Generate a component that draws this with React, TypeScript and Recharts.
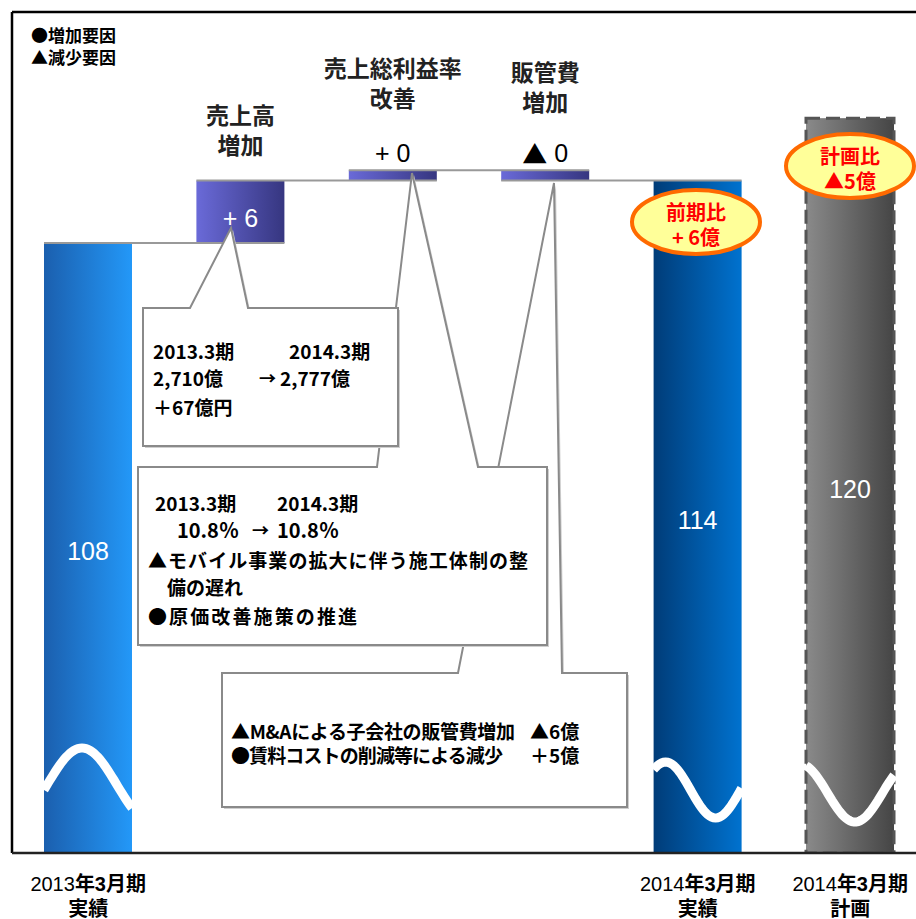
import React from 'react';
import { BarChart, Bar, XAxis, YAxis, Cell } from 'recharts';

// 売上総利益の増減要因 (億円) — ウォーターフォール
const categories = ['2013年3月期実績', '売上高増加', '売上総利益率改善', '販管費増加', '2014年3月期実績', '2014年3月期計画'];
const kinds = ['total', 'up', 'up', 'down', 'total', 'plan'];
const startValues: (number | null)[] = [null, 108, 114, 115, null, null];
const endValues = [108, 114, 115, 114, 114, 120];
const valueLabels = ['108', '+ 6', '+ 0', '▲ 0', '114', '120'];
const stepTitles = [[], ['売上高', '増加'], ['売上総利益率', '改善'], ['販管費', '増加'], [], []];
const periodYears = ['2013', '', '', '', '2014', '2014'];
const periodMonths = ['年3月期', '', '', '', '年3月期', '年3月期'];
const periodKinds = ['実績', '', '', '', '実績', '計画'];

const data = categories.map((name, i) => {
  const s = startValues[i];
  const e = endValues[i];
  return {
    name,
    value: s == null ? e : [Math.min(s, e), Math.max(s, e)],
  };
});

// layout
const CHART_W = 940;
const CHART_H = 919;
const MARGIN = { top: 12, right: 13.6, bottom: 0, left: 12 };
const BAND = (CHART_W - MARGIN.left - MARGIN.right) / categories.length;
const Y_DOMAIN: [number, number] = [49.4, 130.2]; // 省略軸

const LAT = "'Liberation Sans', Arial, 'Noto Sans CJK JP', sans-serif";
const JP = "'Noto Sans CJK JP', sans-serif";
const fills = ['url(#gBlue)', 'url(#gPurple)', 'url(#gPurple)', 'url(#gPurple)', 'url(#gNavy)', 'url(#gGray)'];
const titleGap = [0, 37, 73, 69, 0, 0];
// 波線 (省略記号): 下端からの中心高さ, 振幅, 波長, 谷の位置
const waves = [
  { mid: 68, amp: 37, len: 140, trough: 108 },
  null, null, null,
  { mid: 63, amp: 28, len: 100, trough: 62 },
  { mid: 60, amp: 29, len: 110, trough: 49 },
];

function wavePath(x: number, w: number, bottom: number, p: { mid: number; amp: number; len: number; trough: number }) {
  const pts: string[] = [];
  for (let t = 0; t <= w; t += 2) {
    const yy = bottom - p.mid + p.amp * Math.cos((2 * Math.PI * (t - p.trough)) / p.len);
    pts.push(`${(x + t).toFixed(1)},${yy.toFixed(1)}`);
  }
  return 'M' + pts.join(' L');
}

function StepBar(props: any) {
  const { x, y, width, height, payload } = props;
  const i = categories.indexOf(payload?.name);
  const kind = kinds[i];
  const bottom = y + height;
  const cx = x + width / 2;
  const wave = waves[i];
  const level = kind === 'up' ? bottom : y;
  const inside = height > 40;
  const title = stepTitles[i] || [];
  const label = valueLabels[i] || '';
  const tri = label.startsWith('▲');
  return (
    <g>
      <rect
        x={x}
        y={y}
        width={width}
        height={height}
        fill={fills[i]}
        stroke={kind === 'plan' ? '#555' : 'none'}
        strokeWidth={kind === 'plan' ? 3 : 0}
        strokeDasharray={kind === 'plan' ? '14 6' : undefined}
      />
      {wave && (
        <path d={wavePath(x, width, bottom, wave)} fill="none" stroke="#fff" strokeWidth={9} strokeLinecap="butt" />
      )}
      {i > 0 && kind !== 'plan' && (
        <line x1={x - BAND} x2={x + width} y1={level} y2={level} stroke="#999" strokeWidth={2} />
      )}
      <text
        x={cx}
        y={inside ? y + height / 2 + (kind === 'up' ? 6 : 3) : y - 17}
        textAnchor="middle"
        dominantBaseline="central"
        fontFamily={LAT}
        fontSize={25}
        fill={inside ? '#fff' : '#000'}
      >
        {tri ? <tspan fontFamily={JP}>▲</tspan> : null}
        {tri ? label.slice(1) : label}
      </text>
      {title.map((t, k) => (
        <text
          key={k}
          x={cx}
          y={y - titleGap[i] - (title.length - 1 - k) * 30}
          textAnchor="middle"
          dominantBaseline="central"
          fontFamily={JP}
          fontWeight="bold"
          fontSize={23}
          fill="#222"
        >
          {t}
        </text>
      ))}
    </g>
  );
}

function PeriodTick(props: any) {
  const { x, y, payload } = props;
  const i = categories.indexOf(payload?.value);
  if (i < 0 || !periodYears[i]) return null;
  return (
    <g fontFamily={LAT} fontSize={20} fill="#000">
      <text x={x} y={y + 23} textAnchor="middle" dominantBaseline="central">
        <tspan>{periodYears[i]}</tspan>
        <tspan fontWeight="bold">{periodMonths[i]}</tspan>
      </text>
      <text x={x} y={y + 48} textAnchor="middle" dominantBaseline="central" fontWeight="bold">
        {periodKinds[i]}
      </text>
    </g>
  );
}

function Callout({ box, tail }: { box: number[]; tail: number[] }) {
  const [l, t, r, b] = box;
  const [f1, f2, ax, ay] = tail;
  const pts = `${l},${t} ${f1},${t} ${ax},${ay} ${f2},${t} ${r},${t} ${r},${b} ${l},${b}`;
  return (
    <g>
      <polygon points={pts} transform="translate(2,2)" fill="#cfcfcf" />
      <polygon points={pts} fill="#fff" stroke="#8a8a8a" strokeWidth={2} />
    </g>
  );
}

function T({ x, y, children, size = 19, w }: any) {
  return (
    <text
      x={x}
      y={y}
      dominantBaseline="central"
      fontFamily={JP}
      fontWeight="bold"
      fontSize={size}
      fill="#000"
      textLength={w}
      lengthAdjust={w ? 'spacing' : undefined}
    >
      {children}
    </text>
  );
}

function Badge({ cx, cy, lines }: { cx: number; cy: number; lines: string[] }) {
  return (
    <g>
      <ellipse cx={cx} cy={cy} rx={64} ry={32} fill="#ffff99" stroke="#ff6a00" strokeWidth={4} />
      {lines.map((l, k) => (
        <text
          key={k}
          x={cx}
          y={cy - 11 + k * 25}
          textAnchor="middle"
          dominantBaseline="central"
          fontFamily={JP}
          fontWeight="bold"
          fontSize={20}
          fill="#ff0000"
        >
          {l}
        </text>
      ))}
    </g>
  );
}

function Overlay() {
  return (
    <svg width={916} height={919} style={{ position: 'absolute', left: 0, top: 0, pointerEvents: 'none' }}>
      {/* 枠 */}
      <line x1={12} x2={916} y1={12} y2={12} stroke="#000" strokeWidth={2.5} />
      <line x1={12} x2={12} y1={12} y2={853} stroke="#000" strokeWidth={2.5} />
      <line x1={12} x2={916} y1={853} y2={853} stroke="#222" strokeWidth={2.5} />

      <T x={31} y={34} size={17}>●増加要因</T>
      <T x={31} y={56} size={17}>▲減少要因</T>

      <Callout box={[222, 673, 627, 807]} tail={[458, 562, 554, 183]} />
      <T x={231} y={730} w={284}>▲M&Aによる子会社の販管費増加</T>
      <T x={530} y={730}>▲6億</T>
      <T x={231} y={754} w={272}>●賃料コストの削減等による減少</T>
      <T x={530} y={754}>＋5億</T>

      <Callout box={[138, 467, 547, 645]} tail={[377, 478, 412, 173]} />
      <T x={155} y={502}>2013.3期</T>
      <T x={277} y={502}>2014.3期</T>
      <T x={177} y={529} size={20}>10.8％</T>
      <T x={252} y={529} size={17}>→</T>
      <T x={277} y={529} size={20}>10.8％</T>
      <T x={148} y={559} w={380}>▲モバイル事業の拡大に伴う施工体制の整</T>
      <T x={167} y={586}>備の遅れ</T>
      <T x={148} y={615} w={209}>●原価改善施策の推進</T>

      <Callout box={[143, 308, 398, 446]} tail={[190, 248, 231, 228]} />
      <T x={153} y={350}>2013.3期</T>
      <T x={289} y={350}>2014.3期</T>
      <T x={153} y={377}>2,710億</T>
      <T x={259} y={377} size={17}>→</T>
      <T x={280} y={377}>2,777億</T>
      <T x={153} y={406}>＋67億円</T>

      <Badge cx={696} cy={222} lines={['前期比', '+ 6億']} />
      <Badge cx={850} cy={166} lines={['計画比', '▲5億']} />
    </svg>
  );
}

export default function App() {
  return (
    <div style={{ position: 'absolute', left: 0, top: 0, width: 916, height: 919, overflow: 'hidden', background: '#fff' }}>
      <svg width={0} height={0} style={{ position: 'absolute' }}>
        <defs>
          <linearGradient id="gBlue" x1="0" x2="1" y1="0" y2="0">
            <stop offset="0" stopColor="#1b5fae" />
            <stop offset="1" stopColor="#2398f8" />
          </linearGradient>
          <linearGradient id="gPurple" x1="0" x2="1" y1="0" y2="0">
            <stop offset="0" stopColor="#6a6ad8" />
            <stop offset="1" stopColor="#363680" />
          </linearGradient>
          <linearGradient id="gNavy" x1="0" x2="1" y1="0" y2="0">
            <stop offset="0" stopColor="#003c78" />
            <stop offset="1" stopColor="#0072cf" />
          </linearGradient>
          <linearGradient id="gGray" x1="0" x2="1" y1="0" y2="0">
            <stop offset="0" stopColor="#8a8a8a" />
            <stop offset="1" stopColor="#454545" />
          </linearGradient>
        </defs>
      </svg>
      <BarChart width={CHART_W} height={CHART_H} data={data} margin={MARGIN}>
        <XAxis
          dataKey="name"
          interval={0}
          axisLine={false}
          tickLine={false}
          height={66}
          tick={(p: any) => <PeriodTick {...p} />}
        />
        <YAxis hide type="number" domain={Y_DOMAIN} allowDataOverflow />
        <Bar dataKey="value" barSize={88} isAnimationActive={false} shape={(p: any) => <StepBar {...p} />}>
          {data.map((d, i) => (
            <Cell key={d.name} fill={fills[i]} />
          ))}
        </Bar>
      </BarChart>
      <Overlay />
    </div>
  );
}
